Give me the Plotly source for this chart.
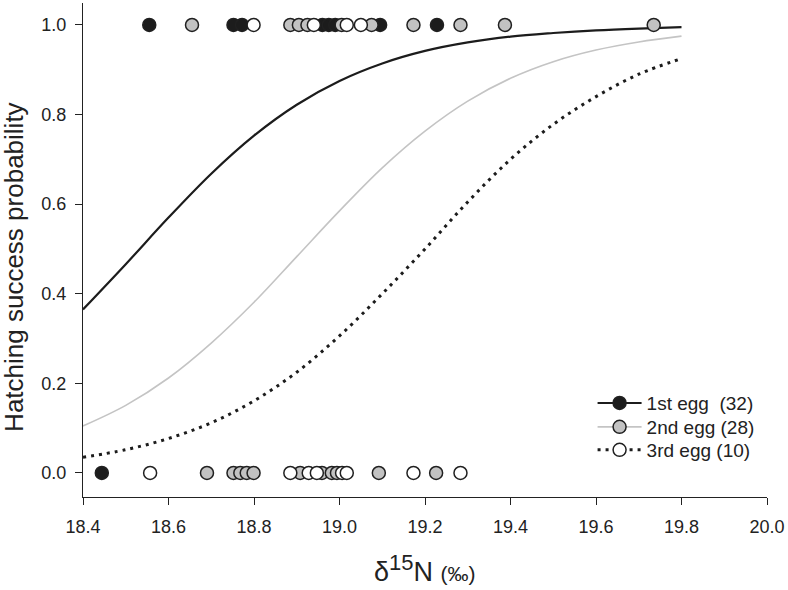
import plotly.graph_objects as go

# ---- data ----
curve_x = [18.4, 18.5, 18.6, 18.7, 18.8, 18.9, 19.0, 19.1, 19.2, 19.3, 19.4, 19.5, 19.6, 19.7, 19.8]
egg1_curve = [0.365, 0.466, 0.570, 0.668, 0.753, 0.822, 0.875, 0.914, 0.942, 0.961, 0.974, 0.982, 0.988, 0.992, 0.995]
egg2_curve = [0.105, 0.151, 0.212, 0.290, 0.381, 0.483, 0.585, 0.681, 0.763, 0.830, 0.881, 0.918, 0.944, 0.962, 0.975]
egg3_curve = [0.035, 0.052, 0.077, 0.112, 0.161, 0.225, 0.306, 0.400, 0.500, 0.605, 0.700, 0.778, 0.840, 0.890, 0.925]

# observed eggs: hatched (1) / not hatched (0)
egg1_x = [18.555, 18.752, 18.772, 18.960, 18.975, 18.990, 19.095, 19.228, 18.444]
egg1_y = [1, 1, 1, 1, 1, 1, 1, 1, 0]
egg2_x = [18.655, 18.885, 18.905, 18.925, 19.005, 19.075, 19.173, 19.283, 19.387, 19.735,
          18.690, 18.752, 18.768, 18.783, 18.799, 18.908, 18.959, 18.982, 18.994, 19.092, 19.226]
egg2_y = [1, 1, 1, 1, 1, 1, 1, 1, 1, 1,
          0, 0, 0, 0, 0, 0, 0, 0, 0, 0, 0]
egg3_x = [18.799, 18.940, 19.017, 19.050,
          18.557, 18.885, 18.928, 18.947, 19.006, 19.017, 19.173, 19.283]
egg3_y = [1, 1, 1, 1,
          0, 0, 0, 0, 0, 0, 0, 0]

legend_names = ["1st egg\u00a0\u00a0(32)", "2nd egg (28)", "3rd egg (10)"]
x_ticks = [18.4, 18.6, 18.8, 19.0, 19.2, 19.4, 19.6, 19.8, 20.0]
y_ticks = [0.0, 0.2, 0.4, 0.6, 0.8, 1.0]
y_title = "Hatching success probability"
x_title = ("<span style='font-size:27px'>δ</span><sup><span style='font-size:22px'>15</span></sup>"
           "<span style='font-size:27px'>N</span> <span style='font-size:21px'>(‰)</span>")

BLACK = "#1c1c1c"
GRAY_LINE = "#c4c4c4"
GRAY_FILL = "#c2c2c2"
EDGE = "#202020"
TEXT = "#222222"

fig = go.Figure()

# fitted curves
fig.add_trace(go.Scatter(x=curve_x, y=egg1_curve, mode="lines", line=dict(color=BLACK, width=2.2, shape="spline"),
                         showlegend=False, hoverinfo="skip"))
fig.add_trace(go.Scatter(x=curve_x, y=egg2_curve, mode="lines", line=dict(color=GRAY_LINE, width=1.6, shape="spline"),
                         showlegend=False, hoverinfo="skip"))
fig.add_trace(go.Scatter(x=curve_x, y=egg3_curve, mode="lines",
                         line=dict(color=BLACK, width=3, dash="3px,5px", shape="spline"),
                         showlegend=False, hoverinfo="skip"))

# observations
fig.add_trace(go.Scatter(x=egg1_x, y=egg1_y, mode="markers",
                         marker=dict(size=13, color=BLACK, line=dict(color=EDGE, width=1.5)), showlegend=False))
fig.add_trace(go.Scatter(x=egg2_x, y=egg2_y, mode="markers",
                         marker=dict(size=13, color=GRAY_FILL, line=dict(color=EDGE, width=1.5)), showlegend=False))
fig.add_trace(go.Scatter(x=egg3_x, y=egg3_y, mode="markers",
                         marker=dict(size=13, color="white", line=dict(color=EDGE, width=1.5)), showlegend=False))

# legend entries (one legend per row so the row spacing can match)
fig.add_trace(go.Scatter(x=[None], y=[None], mode="lines+markers", name=legend_names[0], legend="legend",
                         line=dict(color=BLACK, width=2.2),
                         marker=dict(size=13, color=BLACK, line=dict(color=EDGE, width=1.5))))
fig.add_trace(go.Scatter(x=[None], y=[None], mode="lines+markers", name=legend_names[1], legend="legend2",
                         line=dict(color=GRAY_LINE, width=1.6),
                         marker=dict(size=13, color=GRAY_FILL, line=dict(color=EDGE, width=1.5))))
fig.add_trace(go.Scatter(x=[None], y=[None], mode="lines+markers", name=legend_names[2], legend="legend3",
                         line=dict(color=BLACK, width=3, dash="3px,5px"),
                         marker=dict(size=13, color="white", line=dict(color=EDGE, width=1.5))))

axis_common = dict(showline=True, linecolor="#222", linewidth=1.2, ticks="outside", ticklen=7,
                   tickwidth=1.2, tickcolor="#222", showgrid=False, zeroline=False,
                   tickfont=dict(size=18, color=TEXT))

legend_common = dict(x=0.745, xanchor="left", yanchor="middle", bgcolor="rgba(0,0,0,0)",
                     font=dict(size=19, color=TEXT), itemwidth=44)

fig.update_layout(
    width=788, height=590,
    margin=dict(l=83, r=21, t=3, b=93),
    paper_bgcolor="white", plot_bgcolor="white",
    font=dict(family="Liberation Sans, Arial, sans-serif", color=TEXT),
    xaxis=dict(range=[18.4, 20.0], tickvals=x_ticks, ticktext=[f"{v:.1f}" for v in x_ticks],
               ticklabelstandoff=6, **axis_common),
    yaxis=dict(range=[-0.0536, 1.049], tickvals=y_ticks, ticktext=[f"{v:.1f}" for v in y_ticks],
               ticklabelstandoff=5, **axis_common),
    legend=dict(y=0.190, **legend_common),
    legend2=dict(y=0.1417, **legend_common),
    legend3=dict(y=0.0951, **legend_common),
    showlegend=True,
    annotations=[
        dict(text=y_title, textangle=-90, xref="paper", x=0, xshift=-69, xanchor="center",
             yref="y", y=0.46, yanchor="middle", showarrow=False, font=dict(size=26, color=TEXT)),
        dict(text=x_title, xref="paper", x=0.5, xanchor="center", yref="paper", y=0, yshift=-71,
             yanchor="middle", showarrow=False, font=dict(size=27, color=TEXT)),
    ],
)

fig.write_html("out.html", config={"displayModeBar": False},
               post_script="document.body.style.margin='0';document.body.style.overflow='hidden';")
